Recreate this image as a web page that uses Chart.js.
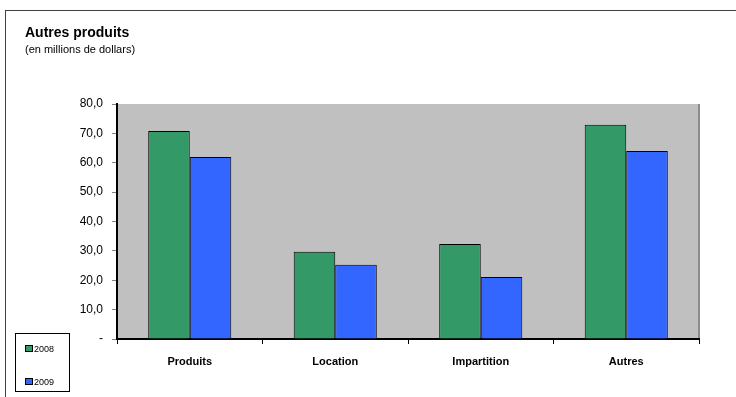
<!DOCTYPE html>
<html>
<head>
<meta charset="utf-8">
<script src="https://cdn.jsdelivr.net/npm/chart.js@4/dist/chart.umd.min.js"></script>
<style>
  html, body { margin: 0; padding: 0; background: #fff; }
  #wrap { position: relative; width: 736px; height: 397px; overflow: hidden; font-family: "Liberation Sans", Arial, sans-serif; }
  #frame { position: absolute; left: 5px; top: 10px; width: 760px; height: 420px; border-left: 1.5px solid #404040; border-top: 1.5px solid #404040; }
  #title { position: absolute; left: 25px; top: 24px; font-size: 14px; font-weight: bold; color: #000; }
  #subtitle { position: absolute; left: 25px; top: 43px; font-size: 11px; color: #000; }
  #legend { position: absolute; left: 15px; top: 333px; width: 55px; height: 59px; border: 1px solid #000; box-sizing: border-box; font-size: 9px; }
  .item { position: absolute; left: 9px; height: 10px; line-height: 10px; }
  .sw { display: inline-block; width: 6px; height: 5px; border: 1px solid #000; margin-right: 1px; vertical-align: 0px; }
  canvas { position: absolute; left: 0; top: 0; }
</style>
</head>
<body>
<div id="wrap">
  <div id="frame"></div>
  <canvas id="c" width="736" height="397"></canvas>
  <div id="title">Autres produits</div>
  <div id="subtitle">(en millions de dollars)</div>
  <div id="legend"></div>
</div>
<script>
// Revenue categories and yearly values (millions of dollars)
const categories = ["Produits", "Location", "Impartition", "Autres"];
const years = ["2008", "2009"];
const values2008 = [70.8, 29.7, 32.3, 72.9];
const values2009 = [62.0, 25.3, 21.1, 64.0];
const yTicks = [0, 10, 20, 30, 40, 50, 60, 70, 80];
const colors = ["#339966", "#3366FF"];

// Grey plot background and right border of the plot area
const plotBg = {
  id: "plotBg",
  beforeDraw(chart) {
    const { ctx, chartArea: a } = chart;
    ctx.save();
    ctx.fillStyle = "#C0C0C0";
    ctx.fillRect(a.left, a.top, a.right - a.left, a.bottom - a.top);
    ctx.strokeStyle = "#8c8c8c";
    ctx.lineWidth = 2;
    ctx.beginPath();
    ctx.moveTo(a.right, a.top);
    ctx.lineTo(a.right, a.bottom);
    ctx.stroke();
    ctx.restore();
  }
};

const chart = new Chart(document.getElementById("c"), {
  type: "bar",
  data: {
    labels: categories,
    datasets: [
      { label: years[0], data: values2008, backgroundColor: colors[0], borderColor: "#000", borderWidth: 1 },
      { label: years[1], data: values2009, backgroundColor: colors[1], borderColor: "#000", borderWidth: 1 }
    ]
  },
  options: {
    responsive: false,
    animation: false,
    devicePixelRatio: 1,
    layout: { padding: { top: 104, right: 37, left: 0, bottom: 0 } },
    plugins: { legend: { display: false }, title: { display: false }, tooltip: { enabled: false } },
    datasets: { bar: { categoryPercentage: 0.571, barPercentage: 1.0 } },
    scales: {
      x: {
        grid: { display: true, drawOnChartArea: false, offset: true, tickLength: 5, color: "#000", lineWidth: 1 },
        border: { display: true, color: "#000", width: 2 },
        ticks: { color: "#000", font: { family: "Liberation Sans", size: 11, weight: "bold" }, padding: 11, maxRotation: 0 },
        afterFit(s) { s.height = 58; }
      },
      y: {
        min: 0, max: 80,
        afterBuildTicks(s) { s.ticks = yTicks.map(v => ({ value: v })); },
        grid: { display: true, drawOnChartArea: false, tickLength: 5, color: "#808080", lineWidth: 1 },
        border: { display: true, color: "#000", width: 2 },
        ticks: {
          color: "#000", padding: 9,
          font: { family: "Liberation Sans", size: 12 },
          callback: v => v === 0 ? "-" : v.toFixed(1).replace(".", ",")
        },
        afterFit(s) { s.width = 117; }
      }
    }
  },
  plugins: [plotBg]
});

// Legend box built from the chart's datasets
const legend = document.getElementById("legend");
chart.data.datasets.forEach((ds, i) => {
  const d = document.createElement("div");
  d.className = "item";
  d.style.top = (i === 0 ? 10 : 43) + "px";
  d.innerHTML = '<span class="sw" style="background:' + ds.backgroundColor + '"></span>' + ds.label;
  legend.appendChild(d);
});
</script>
</body>
</html>
